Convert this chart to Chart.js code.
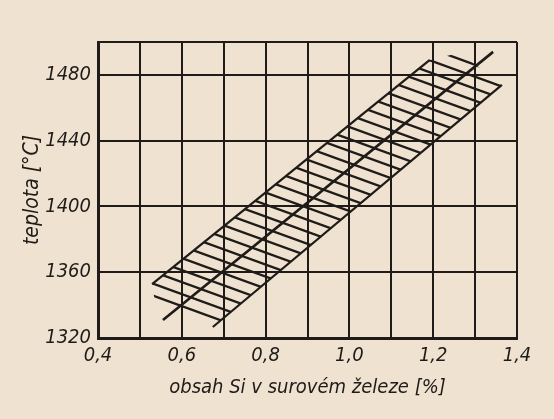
<!DOCTYPE html>
<html>
<head>
<meta charset="utf-8">
<script src="https://cdn.jsdelivr.net/npm/chart.js@4.4.0/dist/chart.umd.min.js"></script>
<style>
  html, body { margin:0; padding:0; background:#f0e2d0; }
  #wrap { width:554px; height:419px; }
</style>
</head>
<body>
<div id="wrap"><canvas id="c" width="554" height="419"></canvas></div>
<script>
// ---- data ----
const xGridValues = [0.4, 0.5, 0.6, 0.7, 0.8, 0.9, 1.0, 1.1, 1.2, 1.3, 1.4];
const xTickLabels = ['0,4', '', '0,6', '', '0,8', '', '1,0', '', '1,2', '', '1,4'];
const yGridValues = [1320, 1360, 1400, 1440, 1480, 1500];
const yTickLabels = ['1320', '1360', '1400', '1440', '1480', ''];

const xTitle = 'obsah Si v surovém železe [%]';
const yTitle = 'teplota [°C]';

// centre line of the band
const centerSi = [0.555, 1.343];
const centerTemp = [1331, 1494];
// upper-left edge of the hatched band
const upperEdgeSi = [0.529, 1.192];
const upperEdgeTemp = [1352.8, 1489.1];
// lower-right edge of the hatched band
const lowerEdgeSi = [0.674, 1.364];
const lowerEdgeTemp = [1326.7, 1473.9];
// outline of the hatched band (closed shape)
const bandSi = [0.529, 1.192, 1.264, 1.364, 0.674, 0.536];
const bandTemp = [1352.8, 1489.1, 1493.4, 1473.9, 1326.7, 1341.9];

// ---- styles ----
const INK = '#1e1b18';
const BG = '#f0e2d0';
const FONT = "'DejaVu Sans Condensed', 'Liberation Sans', sans-serif";

function pts(xs, ys) { return xs.map((x, i) => ({ x: x, y: ys[i] })); }

function hatchPattern() {
  const W = 33, H = 12;
  const cv = document.createElement('canvas');
  cv.width = W; cv.height = H;
  const g = cv.getContext('2d');
  g.strokeStyle = INK;
  g.lineWidth = 2.3;
  for (let n = -1; n <= 1; n++) {
    g.beginPath();
    g.moveTo(-2, n * H - 2 * H / W);
    g.lineTo(W + 2, n * H + H + 2 * H / W);
    g.stroke();
  }
  return g.createPattern(cv, 'repeat');
}

const bgPlugin = {
  id: 'bg',
  beforeDraw(chart) {
    const ctx = chart.ctx;
    ctx.save();
    ctx.fillStyle = BG;
    ctx.fillRect(0, 0, chart.width, chart.height);
    ctx.restore();
  }
};

new Chart(document.getElementById('c'), {
  type: 'scatter',
  data: {
    datasets: [
      { data: pts(bandSi, bandTemp), showLine: true, fill: 'shape', backgroundColor: hatchPattern(),
        borderWidth: 0, borderColor: 'rgba(0,0,0,0)', pointRadius: 0, tension: 0 },
      { data: pts(upperEdgeSi, upperEdgeTemp), showLine: true, borderColor: INK, borderWidth: 2.2, pointRadius: 0 },
      { data: pts(lowerEdgeSi, lowerEdgeTemp), showLine: true, borderColor: INK, borderWidth: 2.2, pointRadius: 0 },
      { data: pts(centerSi, centerTemp), showLine: true, borderColor: INK, borderWidth: 2.6, pointRadius: 0 }
    ]
  },
  options: {
    responsive: false,
    animation: false,
    layout: { padding: { left: 0, right: 37, top: 42, bottom: 0 } },
    plugins: { legend: { display: false }, tooltip: { enabled: false } },
    scales: {
      x: {
        type: 'linear', min: 0.4, max: 1.4,
        afterBuildTicks(s) { s.ticks = xGridValues.map(v => ({ value: v })); },
        afterFit(s) { s.height = 81; },
        grid: { color: INK, lineWidth: 2, drawTicks: false },
        border: { color: INK, width: 3 },
        ticks: {
          autoSkip: false, maxRotation: 0, padding: 6, color: INK,
          font: { family: FONT, size: 20, style: 'italic' },
          callback(v, i) { return xTickLabels[i]; }
        },
        title: { display: true, text: xTitle, color: INK,
          font: { family: FONT, size: 20, style: 'italic' }, padding: { top: 0, bottom: 19 } }
      },
      y: {
        type: 'linear', min: 1320, max: 1500,
        afterBuildTicks(s) { s.ticks = yGridValues.map(v => ({ value: v })); },
        afterFit(s) { s.width = 98; },
        grid: { color: INK, lineWidth: 2, drawTicks: false },
        border: { color: INK, width: 3 },
        ticks: {
          autoSkip: false, padding: 7, color: INK,
          font: { family: FONT, size: 20, style: 'italic' },
          callback(v, i) { return yTickLabels[i]; }
        },
        title: { display: true, text: yTitle, color: INK,
          font: { family: FONT, size: 21, style: 'italic', weight: 'normal' }, padding: { top: 20, bottom: 0 } }
      }
    }
  },
  plugins: [bgPlugin]
});
</script>
</body>
</html>
